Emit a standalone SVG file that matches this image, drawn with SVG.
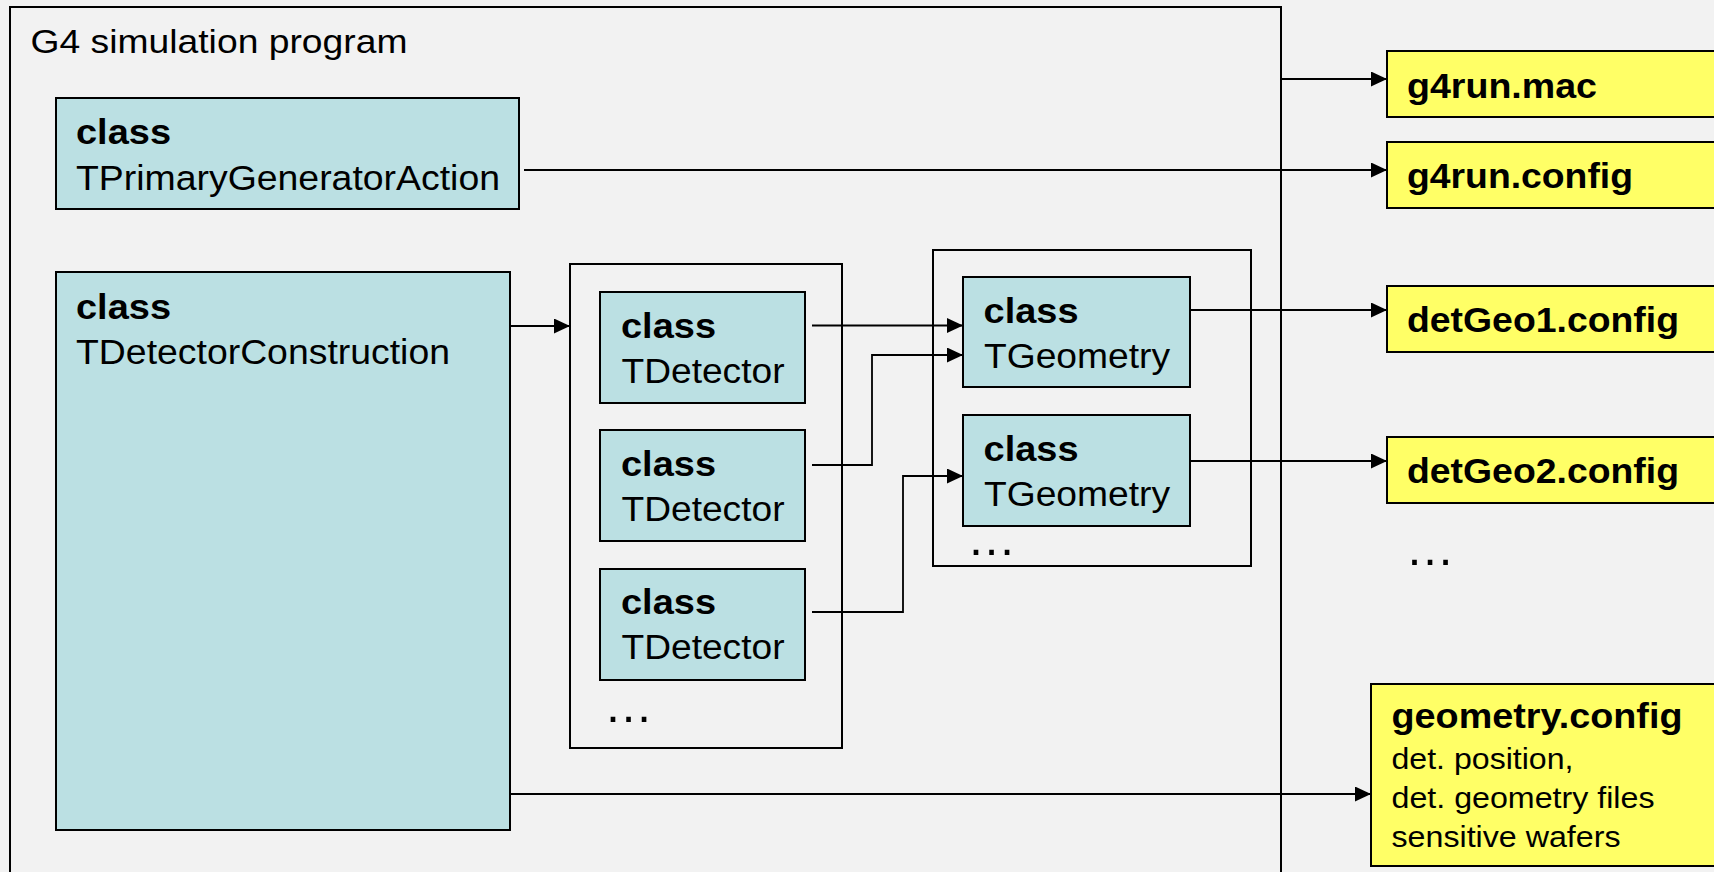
<svg xmlns="http://www.w3.org/2000/svg" width="1714" height="872" viewBox="0 0 1714 872">
  <defs>
    <marker id="arrow" markerWidth="16" markerHeight="15" refX="16" refY="7.5" orient="auto" markerUnits="userSpaceOnUse">
      <path d="M0,0 L16,7.5 L0,15 Z" fill="#000"/>
    </marker>
    <style>
      .bg{fill:#f2f2f2}
      .frame{fill:none;stroke:#000;stroke-width:2}
      .cls{fill:#bbe0e3;stroke:#000;stroke-width:2}
      .file{fill:#ffff66;stroke:#000;stroke-width:2}
      .t{font-family:"Liberation Sans",Arial,sans-serif;fill:#000;font-size:35.5px}
      .b{font-weight:bold}
      .s{font-size:30px}
      .title{font-size:34px}
      .dots{font-size:50px}
      .conn{fill:none;stroke:#000;stroke-width:1.8;marker-end:url(#arrow)}
    </style>
  </defs>

  <rect class="bg" x="0" y="0" width="1714" height="872"/>

  <!-- program frame -->
  <g id="program">
    <rect class="frame" x="10" y="7" width="1271" height="880"/>
    <text class="t title" x="30.5" y="53.3" textLength="377" lengthAdjust="spacingAndGlyphs">G4 simulation program</text>
  </g>

  <!-- grouping frames -->
  <g id="detectors">
    <rect class="frame" x="570" y="264" width="272" height="484"/>
    <text class="t dots" x="604" y="722" textLength="49" lengthAdjust="spacingAndGlyphs">…</text>
  </g>
  <g id="geometries">
    <rect class="frame" x="933" y="250" width="318" height="316"/>
    <text class="t dots" x="967" y="555" textLength="49" lengthAdjust="spacingAndGlyphs">…</text>
  </g>

  <!-- class nodes -->
  <g id="primaryGenerator">
    <rect class="cls" x="56" y="98" width="463" height="111"/>
    <text class="t b" x="76" y="144" textLength="95" lengthAdjust="spacingAndGlyphs">class</text>
    <text class="t" x="76" y="190" textLength="424" lengthAdjust="spacingAndGlyphs">TPrimaryGeneratorAction</text>
  </g>
  <g id="detectorConstruction">
    <rect class="cls" x="56" y="272" width="454" height="558"/>
    <text class="t b" x="76" y="318.5" textLength="95" lengthAdjust="spacingAndGlyphs">class</text>
    <text class="t" x="76" y="363.5" textLength="374" lengthAdjust="spacingAndGlyphs">TDetectorConstruction</text>
  </g>
  <g id="detector1">
    <rect class="cls" x="600" y="292" width="205" height="111"/>
    <text class="t b" x="621" y="338.3" textLength="95" lengthAdjust="spacingAndGlyphs">class</text>
    <text class="t" x="621.5" y="383.3" textLength="163" lengthAdjust="spacingAndGlyphs">TDetector</text>
  </g>
  <g id="detector2">
    <rect class="cls" x="600" y="430" width="205" height="111"/>
    <text class="t b" x="621" y="476.3" textLength="95" lengthAdjust="spacingAndGlyphs">class</text>
    <text class="t" x="621.5" y="521.3" textLength="163" lengthAdjust="spacingAndGlyphs">TDetector</text>
  </g>
  <g id="detector3">
    <rect class="cls" x="600" y="569" width="205" height="111"/>
    <text class="t b" x="621" y="614.3" textLength="95" lengthAdjust="spacingAndGlyphs">class</text>
    <text class="t" x="621.5" y="659.3" textLength="163" lengthAdjust="spacingAndGlyphs">TDetector</text>
  </g>
  <g id="geometry1">
    <rect class="cls" x="963" y="277" width="227" height="110"/>
    <text class="t b" x="983.6" y="323.3" textLength="95" lengthAdjust="spacingAndGlyphs">class</text>
    <text class="t" x="984" y="368.3" textLength="186" lengthAdjust="spacingAndGlyphs">TGeometry</text>
  </g>
  <g id="geometry2">
    <rect class="cls" x="963" y="415" width="227" height="111"/>
    <text class="t b" x="983.6" y="460.7" textLength="95" lengthAdjust="spacingAndGlyphs">class</text>
    <text class="t" x="984" y="506" textLength="186" lengthAdjust="spacingAndGlyphs">TGeometry</text>
  </g>

  <!-- file nodes -->
  <g id="g4runMac">
    <rect class="file" x="1387" y="51" width="340" height="66"/>
    <text class="t b" x="1407" y="98.3" textLength="190" lengthAdjust="spacingAndGlyphs">g4run.mac</text>
  </g>
  <g id="g4runConfig">
    <rect class="file" x="1387" y="142" width="340" height="66"/>
    <text class="t b" x="1407" y="188.3" textLength="226" lengthAdjust="spacingAndGlyphs">g4run.config</text>
  </g>
  <g id="detGeo1">
    <rect class="file" x="1387" y="286" width="340" height="66"/>
    <text class="t b" x="1407" y="331.7" textLength="272" lengthAdjust="spacingAndGlyphs">detGeo1.config</text>
  </g>
  <g id="detGeo2">
    <rect class="file" x="1387" y="437" width="340" height="66"/>
    <text class="t b" x="1407" y="483.3" textLength="272" lengthAdjust="spacingAndGlyphs">detGeo2.config</text>
  </g>
  <g id="moreFiles">
    <text class="t dots" x="1405.5" y="565" textLength="49" lengthAdjust="spacingAndGlyphs">…</text>
  </g>
  <g id="geometryConfig">
    <rect class="file" x="1371" y="684" width="360" height="182"/>
    <text class="t b" x="1391.5" y="728.3" textLength="291" lengthAdjust="spacingAndGlyphs">geometry.config</text>
    <text class="t s" x="1391.5" y="769.3" textLength="182" lengthAdjust="spacingAndGlyphs">det. position,</text>
    <text class="t s" x="1391.5" y="808.3" textLength="263" lengthAdjust="spacingAndGlyphs">det. geometry files</text>
    <text class="t s" x="1391.5" y="846.7" textLength="229" lengthAdjust="spacingAndGlyphs">sensitive wafers</text>
  </g>

  <!-- connectors -->
  <g id="connectors">
    <path class="conn" d="M1281,79 H1387"/>
    <path class="conn" d="M524,170 H1387"/>
    <path class="conn" d="M1190,310 H1387"/>
    <path class="conn" d="M1190,461 H1387"/>
    <path class="conn" d="M510,794 H1371"/>
    <path class="conn" d="M510,326 H570"/>
    <path class="conn" d="M812,325.5 H963"/>
    <path class="conn" d="M812,465 H872 V355 H963"/>
    <path class="conn" d="M812,612 H903 V476 H963"/>
  </g>
</svg>
